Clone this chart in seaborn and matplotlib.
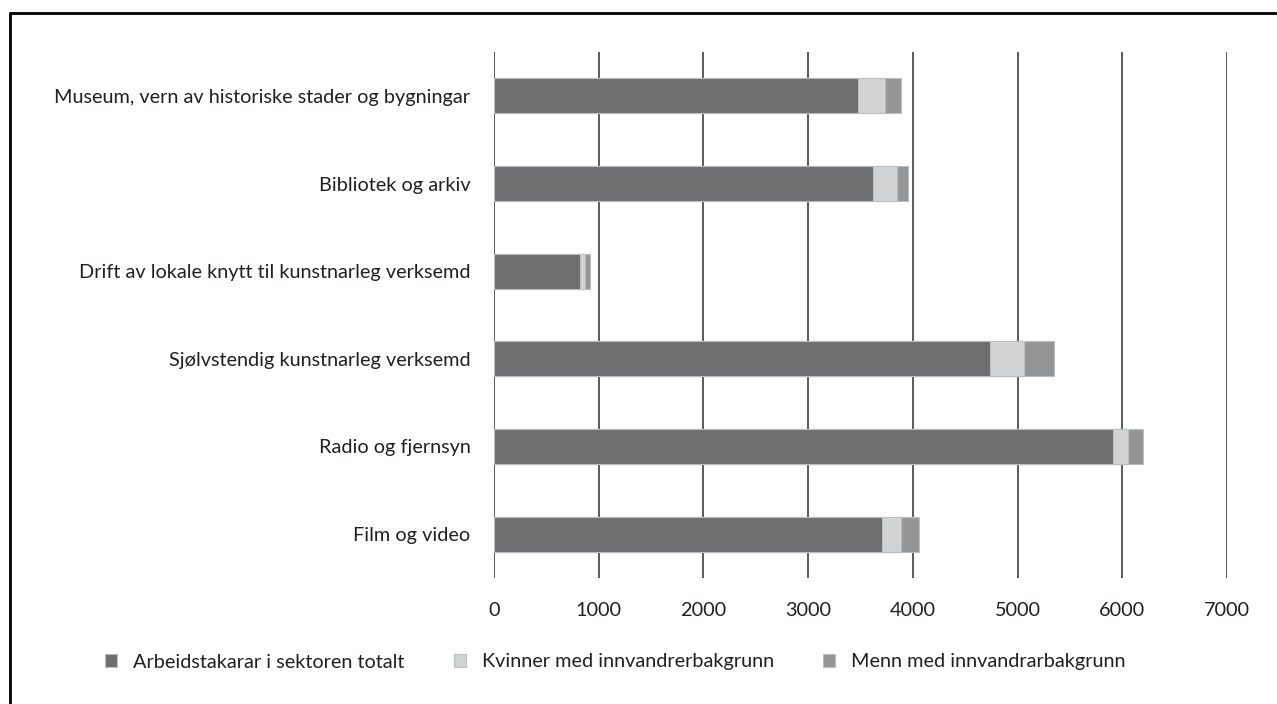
import pandas as pd
import numpy as np
import matplotlib.pyplot as plt
import seaborn as sns
from matplotlib.lines import Line2D

categories = ["Museum, vern av historiske stader og bygningar",
              "Bibliotek og arkiv",
              "Drift av lokale knytt til kunstnarleg verksemd",
              "Sjølvstendig kunstnarleg verksemd",
              "Radio og fjernsyn",
              "Film og video"]
totalt = [3480, 3620, 820, 4740, 5910, 3710]
kvinner = [250, 230, 50, 320, 140, 175]
menn = [160, 100, 50, 285, 150, 175]
series_names = ["Arbeidstakarar i sektoren totalt",
                "Kvinner med innvandrerbakgrunn",
                "Menn med innvandrarbakgrunn"]
xticks = [0, 1000, 2000, 3000, 4000, 5000, 6000, 7000]

colors = ["#6d6e71", "#d1d3d4", "#939598"]

df = pd.DataFrame({"kategori": categories, "totalt": totalt,
                   "kvinner": kvinner, "menn": menn})
df["s1"] = df["totalt"]
df["s2"] = df["s1"] + df["kvinner"]
df["s3"] = df["s2"] + df["menn"]

sns.set_style("white")
plt.rcParams["font.family"] = ["Lato", "DejaVu Sans"]
fs = 14.3

fig = plt.figure(figsize=(12.77, 7.04), dpi=100)
ax = fig.add_axes([494/1277, 1-578/704, (1227-494)/1277, (578-52)/704])

# stacked bars drawn back to front
for col, c, name in zip(["s3", "s2", "s1"], colors[::-1], series_names[::-1]):
    sns.barplot(data=df, x=col, y="kategori", color=c, width=0.4, ax=ax,
                orient="h", edgecolor="#bcbec0", linewidth=0.8, label=name, zorder=3)

ax.set_xlim(0, 7000)
ax.set_ylim(5.5, -0.5)
ax.set_xticks(xticks)
ax.set_xticklabels([str(t) for t in xticks])
ax.set_xlabel("")
ax.set_ylabel("")
for t in xticks:
    ax.axvline(t, color="#4d4d4f", lw=1.3, zorder=1)
for s in ax.spines.values():
    s.set_visible(False)
ax.tick_params(axis="x", length=0, pad=17, labelsize=fs, colors="#231f20")
ax.tick_params(axis="y", length=0, pad=17, labelsize=fs, colors="#231f20")

handles, labels = ax.get_legend_handles_labels()
order = [labels.index(n) for n in series_names]
ax.legend([handles[i] for i in order], [labels[i] for i in order],
          loc="center left", bbox_to_anchor=(87/1277, 1-662/704), bbox_transform=fig.transFigure,
          ncol=3, frameon=False, fontsize=fs, handlelength=0.6, handleheight=0.6,
          columnspacing=2.5, handletextpad=0.8, labelcolor="#231f20")

# frame lines (top and left) around the figure
fig.add_artist(Line2D([10/1277, 1], [1-13/704, 1-13/704], color="black", lw=2,
                      transform=fig.transFigure))
fig.add_artist(Line2D([10/1277, 10/1277], [0, 1-13/704], color="black", lw=2,
                      transform=fig.transFigure))

fig.savefig("out.png", dpi=100)
